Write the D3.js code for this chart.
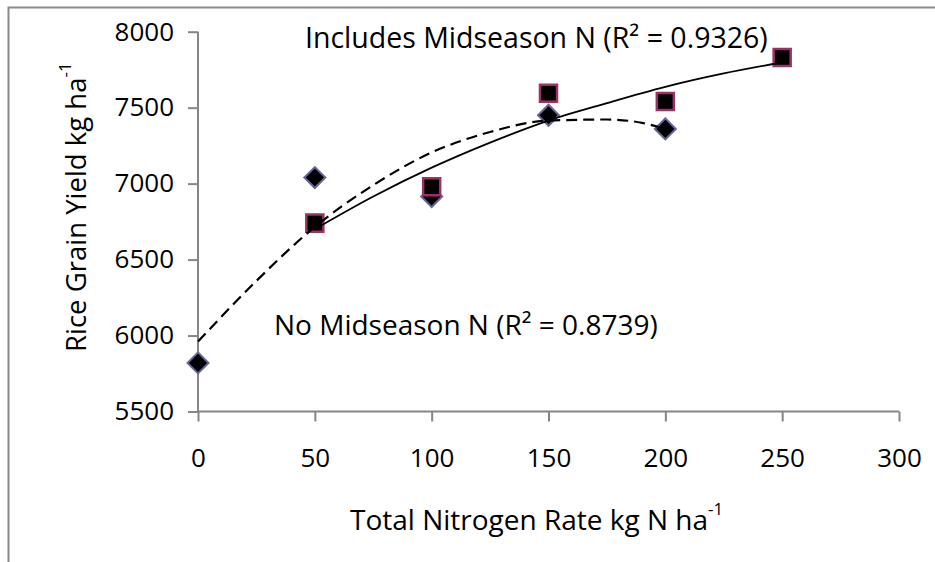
<!DOCTYPE html>
<html>
<head>
<meta charset="utf-8">
<script src="https://cdn.jsdelivr.net/npm/d3@7"></script>
<style>
  html, body { margin: 0; padding: 0; background: #fff; }
  svg { display: block; }
  text { font-family: "Open Sans", sans-serif; fill: #000; }
</style>
</head>
<body>
<svg id="chart" width="935" height="562"></svg>
<script>
// ---- data ----
const noMidX = [0, 50, 100, 150, 200];
const noMidY = [5820, 7040, 6915, 7450, 7360];
const withMidX = [50, 100, 150, 200, 250];
const withMidY = [6740, 6980, 7595, 7540, 7830];

// trendline points
const noMidTrendX = [0, 25, 50, 75, 100, 125, 150, 175, 190, 200];
const noMidTrendY = [5960, 6360, 6715, 6990, 7205, 7340, 7415, 7422, 7400, 7360];
const withMidTrendX = [50, 75, 100, 125, 150, 175, 200, 225, 250];
const withMidTrendY = [6700, 6915, 7105, 7270, 7415, 7530, 7637, 7725, 7798];

const xTicks = [0, 50, 100, 150, 200, 250, 300];
const yTicks = [5500, 6000, 6500, 7000, 7500, 8000];

const labelWith = "Includes Midseason N (R\u00B2 = 0.9326)";
const labelNo = "No Midseason N (R\u00B2 = 0.8739)";
const xTitle = "Total Nitrogen Rate kg N ha";
const yTitle = "Rice Grain Yield kg ha";
const supText = "-1";

// ---- layout ----
const svg = d3.select("#chart");
const axisColor = "#868686";
const x = d3.scaleLinear().domain([0, 300]).range([198, 899]);
const y = d3.scaleLinear().domain([5500, 8000]).range([411.5, 31.7]);

// outer frame (extends past the right/bottom of the view)
svg.append("rect")
  .attr("x", 8.5).attr("y", 7.5)
  .attr("width", 1000).attr("height", 1000)
  .attr("fill", "none").attr("stroke", "#8a8a8a").attr("stroke-width", 2);

// axes
const yAxis = d3.axisLeft(y).tickValues(yTicks).tickSize(10).tickPadding(14).tickFormat(d3.format("d"));
const xAxis = d3.axisBottom(x).tickValues(xTicks).tickSize(10).tickPadding(27).tickFormat(d3.format("d"));

const gy = svg.append("g").attr("transform", `translate(${x(0)},0)`).call(yAxis);
const gx = svg.append("g").attr("transform", `translate(0,${y(5500)})`).call(xAxis);
[gx, gy].forEach(g => {
  g.select(".domain").attr("stroke", axisColor).attr("stroke-width", 2);
  g.selectAll(".tick line").attr("stroke", axisColor).attr("stroke-width", 2);
  g.selectAll(".tick text").style("font-family", "Open Sans").style("font-size", "26px").attr("fill", "#000");
});
gy.select(".domain").attr("d", `M0,${y(8000)}V${y(5500)}`);
gx.select(".domain").attr("d", `M${x(0)},0H${x(300)}`);

// axis titles
const xt = svg.append("text")
  .attr("x", 350).attr("y", 530)
  .style("font-size", "28px");
xt.append("tspan").text(xTitle);
xt.append("tspan").attr("dy", -15).style("font-size", "17px").text(supText);

const yt = svg.append("text")
  .attr("transform", "translate(86,352) rotate(-90)")
  .style("font-size", "27.5px");
yt.append("tspan").text(yTitle);
yt.append("tspan").attr("dy", -15).style("font-size", "17px").text(supText);

// markers
const diamond = d3.symbol().type(d3.symbolSquare).size(220);
svg.append("g").selectAll("path")
  .data(noMidX.map((d, i) => [d, noMidY[i]]))
  .join("path")
  .attr("d", diamond)
  .attr("transform", d => `translate(${x(d[0])},${y(d[1])}) rotate(45)`)
  .attr("fill", "#000").attr("stroke", "#666699").attr("stroke-width", 2);

const square = d3.symbol().type(d3.symbolSquare).size(290);
svg.append("g").selectAll("path")
  .data(withMidX.map((d, i) => [d, withMidY[i]]))
  .join("path")
  .attr("d", square)
  .attr("transform", d => `translate(${x(d[0])},${y(d[1])})`)
  .attr("fill", "#000").attr("stroke", "#993366").attr("stroke-width", 2.5);

// trendlines
const line = d3.line().x(d => x(d[0])).y(d => y(d[1])).curve(d3.curveMonotoneX);
svg.append("path")
  .datum(noMidTrendX.map((d, i) => [d, noMidTrendY[i]]))
  .attr("d", line)
  .attr("fill", "none").attr("stroke", "#000").attr("stroke-width", 2.2)
  .attr("stroke-dasharray", "11,6");
svg.append("path")
  .datum(withMidTrendX.map((d, i) => [d, withMidTrendY[i]]))
  .attr("d", line)
  .attr("fill", "none").attr("stroke", "#000").attr("stroke-width", 1.8);

// annotations
svg.append("text").attr("x", 305).attr("y", 48).style("font-size", "28.5px").text(labelWith);
svg.append("text").attr("x", 274).attr("y", 335).style("font-size", "28px").text(labelNo);
</script>
</body>
</html>
